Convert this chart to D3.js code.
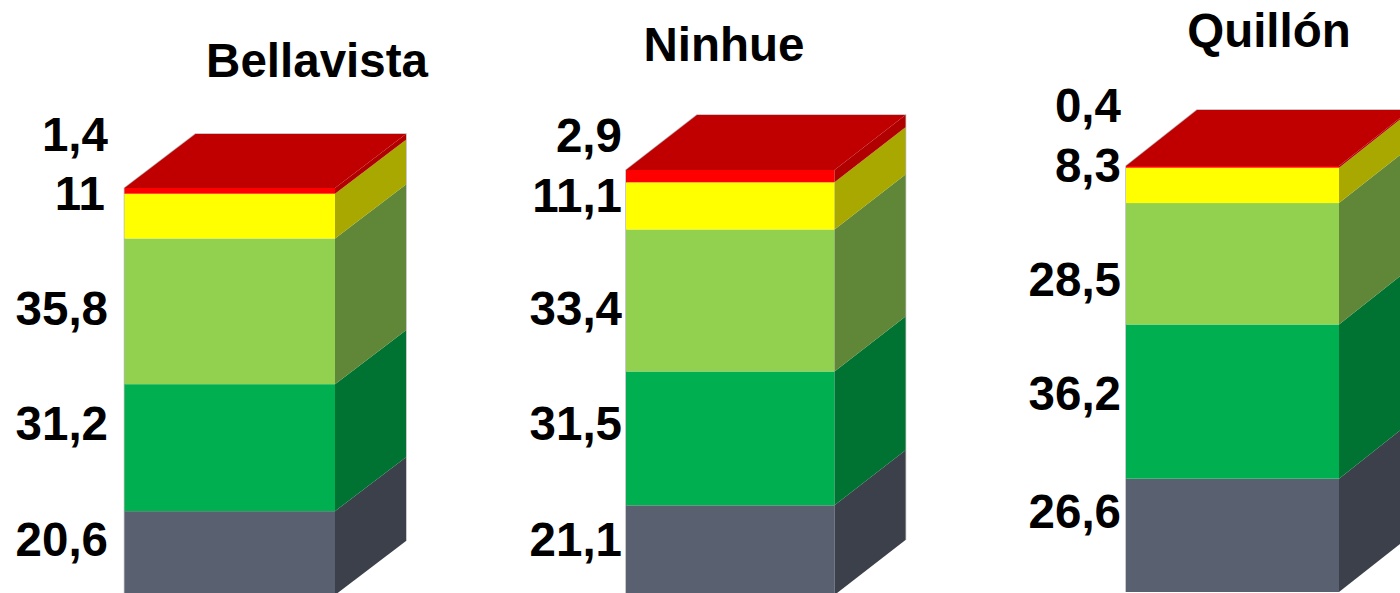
<!DOCTYPE html>
<html>
<head>
<meta charset="utf-8">
<script src="https://cdn.jsdelivr.net/npm/d3@7"></script>
<style>
  html, body { margin: 0; padding: 0; background: #fff; overflow: hidden; }
  text { font-family: "Liberation Sans", Arial, sans-serif; font-weight: bold; fill: #000; }
</style>
</head>
<body>
<div id="chart"></div>
<script>
// Values, bottom layer first
var municipalities = ["Bellavista", "Ninhue", "Quillón"];
var layers = ["slate", "green", "lightGreen", "yellow", "red"];
var bellavista = [20.6, 31.2, 35.8, 11, 1.4];
var ninhue = [21.1, 31.5, 33.4, 11.1, 2.9];
var quillon = [26.6, 36.2, 28.5, 8.3, 0.4];
var valueLabels = [
    ["20,6", "31,2", "35,8", "11", "1,4"],
    ["21,1", "31,5", "33,4", "11,1", "2,9"],
    ["26,6", "36,2", "28,5", "8,3", "0,4"]
];

// Layout of each block, kept apart from the values
var panels = [
    { left: 124.5, right: 335, top: 188, bottom: 595, dx: 71, dy: 54, titleX: 317, titleY: 77, labelX: [108, 108, 108, 105, 108], labelY: [556, 440, 325, 210, 151] },
    { left: 626, right: 834.5, top: 170, bottom: 595, dx: 71, dy: 55, titleX: 724, titleY: 61, labelX: [622, 622, 622, 622, 622], labelY: [556, 440, 325, 212, 152] },
    { left: 1126, right: 1339, top: 166, bottom: 592, dx: 71, dy: 56, titleX: 1269, titleY: 47, labelX: [1121, 1121, 1121, 1121, 1121], labelY: [528, 410, 296, 182, 122] }
];

var frontColors = { slate: "#596170", green: "#00b050", lightGreen: "#92d050", yellow: "#ffff00", red: "#ff0000" };
var sideColors = { slate: "#3c404b", green: "#007232", lightGreen: "#5f8737", yellow: "#a8a800", red: "#b00000" };
var topColor = "#c00000";
var edgeColor = "#b8b8b8";

var fullWidth = 1400;
var fullHeight = 593;

var svg = d3.select("#chart")
    .append("svg")
    .attr("width", fullWidth)
    .attr("height", fullHeight)
    .attr("viewBox", `0 0 ${fullWidth} ${fullHeight}`)
    .style("display", "block");

var seriesByPanel = [bellavista, ninhue, quillon];
var polygon = d3.line();

municipalities.forEach(function(name, p) {
    var panel = panels[p];
    var values = seriesByPanel[p];

    // One row per municipality so d3.stack can do the running totals
    var row = {};
    layers.forEach(function(layer, i) { row[layer] = values[i]; });
    var stacked = d3.stack().keys(layers)([row]);
    var total = d3.sum(values);

    var x = d3.scaleLinear().domain([0, 1]).range([panel.left, panel.right]);
    var y = d3.scaleLinear().domain([0, total]).range([panel.bottom, panel.top]);

    var g = svg.append("g").attr("class", "block");

    // Faint edge along the left and the back, as in the source picture
    g.append("path")
        .attr("d", polygon([[x(0), y(0)], [x(0), y(total)], [x(0) + panel.dx, y(total) - panel.dy], [x(1) + panel.dx, y(total) - panel.dy], [x(1) + panel.dx, y(0) - panel.dy]]))
        .attr("fill", "none")
        .attr("stroke", edgeColor)
        .attr("stroke-width", 1.5);

    // Front faces
    g.selectAll(".front")
        .data(stacked)
        .enter().append("rect")
        .attr("class", "front")
        .attr("x", x(0))
        .attr("width", x(1) - x(0))
        .attr("y", function(d) { return y(d[0][1]); })
        .attr("height", function(d) { return y(d[0][0]) - y(d[0][1]); })
        .attr("fill", function(d) { return frontColors[d.key]; });

    // Side faces
    g.selectAll(".side")
        .data(stacked)
        .enter().append("path")
        .attr("class", "side")
        .attr("d", function(d) {
            var y0 = y(d[0][0]), y1 = y(d[0][1]);
            return polygon([[x(1), y0], [x(1), y1], [x(1) + panel.dx, y1 - panel.dy], [x(1) + panel.dx, y0 - panel.dy]]) + "Z";
        })
        .attr("fill", function(d) { return sideColors[d.key]; });

    // Top face
    g.append("path")
        .attr("d", polygon([[x(0), y(total)], [x(1), y(total)], [x(1) + panel.dx, y(total) - panel.dy], [x(0) + panel.dx, y(total) - panel.dy]]) + "Z")
        .attr("fill", topColor);

    // Title
    svg.append("text")
        .attr("x", panel.titleX)
        .attr("y", panel.titleY)
        .attr("text-anchor", "middle")
        .style("font-size", "47.5px")
        .text(name);

    // Value labels
    svg.selectAll(".label-" + p)
        .data(valueLabels[p])
        .enter().append("text")
        .attr("class", "label-" + p)
        .attr("x", function(d, i) { return panel.labelX[i]; })
        .attr("y", function(d, i) { return panel.labelY[i]; })
        .attr("text-anchor", "end")
        .style("font-size", "47.5px")
        .text(function(d) { return d; });
});
</script>
</body>
</html>
